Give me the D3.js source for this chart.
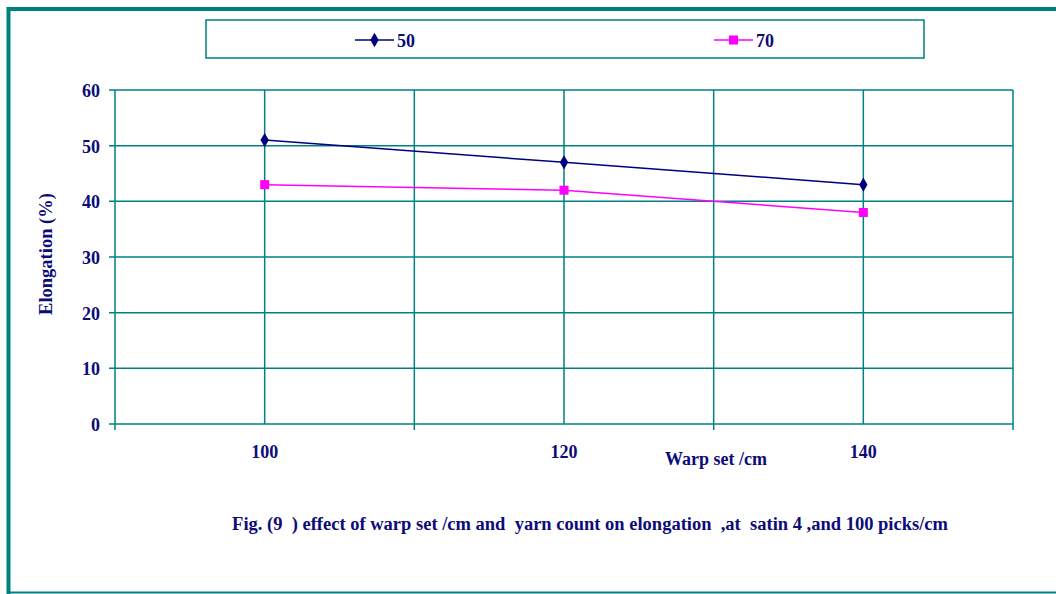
<!DOCTYPE html>
<html><head><meta charset="utf-8">
<script src="https://cdn.jsdelivr.net/npm/d3@7"></script>
<style>body{margin:0;background:#fff}svg{display:block}text{font-family:"Liberation Serif","Times New Roman",serif;font-weight:bold;fill:#0c0c78}</style>
</head><body><svg width="1056" height="594"></svg>
<script>
const warpSet = [100, 120, 140];
const series50 = [51, 47, 43];
const series70 = [43, 42, 38];
const seriesNames = ["50", "70"];
const yTicks = [0, 10, 20, 30, 40, 50, 60];
const xLabels = [100, 120, 140];
const xGrid = [100, 110, 120, 130, 140, 150];
const xTickMarks = [90, 110, 130, 150];

const svg = d3.select("svg");
const teal = "#008080", navy = "#000080", mag = "#ff00ff";

// outer frame
svg.append("line").attr("x1",8.5).attr("x2",1056).attr("y1",9).attr("y2",9).attr("stroke",teal).attr("stroke-width",4);
svg.append("line").attr("x1",8.5).attr("x2",8.5).attr("y1",7).attr("y2",594).attr("stroke",teal).attr("stroke-width",4);
svg.append("line").attr("x1",8).attr("x2",1056).attr("y1",592.5).attr("y2",592.5).attr("stroke",teal).attr("stroke-width",2);

const x = d3.scaleLinear().domain([90,150]).range([115,1013]);
const y = d3.scaleLinear().domain([0,60]).range([424,90]);

// grid
const g = svg.append("g");
g.selectAll(".hg").data(yTicks).join("line")
  .attr("x1",109).attr("x2",1013).attr("y1",d=>y(d)).attr("y2",d=>y(d))
  .attr("stroke",teal).attr("stroke-width",1.5);
g.selectAll(".vg").data(xGrid).join("line")
  .attr("x1",d=>x(d)).attr("x2",d=>x(d)).attr("y1",90).attr("y2",424)
  .attr("stroke",teal).attr("stroke-width",1.5);
g.selectAll(".xt").data(xTickMarks).join("line")
  .attr("x1",d=>x(d)).attr("x2",d=>x(d)).attr("y1",424).attr("y2",430)
  .attr("stroke",teal).attr("stroke-width",1.5);
g.append("line").attr("x1",x(90)).attr("x2",x(90)).attr("y1",90).attr("y2",424).attr("stroke",teal).attr("stroke-width",1.5);

// y labels
svg.selectAll(".yl").data(yTicks).join("text")
  .attr("x",100).attr("y",d=>y(d)+7).attr("text-anchor","end")
  .attr("font-size",18).text(d=>d);
// x labels
svg.selectAll(".xl").data(xLabels).join("text")
  .attr("x",d=>x(d)).attr("y",458).attr("text-anchor","middle")
  .attr("font-size",18).text(d=>d);

svg.append("text").attr("x",716).attr("y",465).attr("text-anchor","middle").attr("font-size",18).text("Warp set /cm");
svg.append("text").attr("transform","translate(52,254) rotate(-90)").attr("text-anchor","middle").attr("font-size",18.5).text("Elongation (%)");
svg.append("text").attr("x",590).attr("y",530).attr("text-anchor","middle").attr("font-size",18.5)
  .attr("xml:space","preserve").style("white-space","pre")
  .text("Fig. (9  ) effect of warp set /cm and  yarn count on elongation  ,at  satin 4 ,and 100 picks/cm");

// lines
const line = d3.line().x((d,i)=>x(warpSet[i])).y(d=>y(d));
svg.append("path").attr("d",line(series50)).attr("fill","none").attr("stroke",navy).attr("stroke-width",1.5);
svg.append("path").attr("d",line(series70)).attr("fill","none").attr("stroke",mag).attr("stroke-width",1.5);
svg.selectAll(".m50").data(series50).join("path")
  .attr("transform",(d,i)=>`translate(${x(warpSet[i])},${y(d)})`)
  .attr("d",d3.symbol().type(d3.symbolDiamond).size(60)).attr("fill",navy);
svg.selectAll(".m70").data(series70).join("rect")
  .attr("x",(d,i)=>x(warpSet[i])-4.5).attr("y",d=>y(d)-4.5).attr("width",9).attr("height",9).attr("fill",mag);

// legend
svg.append("rect").attr("x",206).attr("y",20).attr("width",718).attr("height",38)
  .attr("fill","#fff").attr("stroke",teal).attr("stroke-width",1.5);
const leg = [{n:seriesNames[0],c:navy,x0:355},{n:seriesNames[1],c:mag,x0:714}];
leg.forEach((l,i)=>{
  svg.append("line").attr("x1",l.x0).attr("x2",l.x0+39).attr("y1",40).attr("y2",40).attr("stroke",l.c).attr("stroke-width",1.5);
  if(i===0) svg.append("path").attr("transform",`translate(${l.x0+19.5},40)`).attr("d",d3.symbol().type(d3.symbolDiamond).size(60)).attr("fill",l.c);
  else svg.append("rect").attr("x",l.x0+15).attr("y",35.5).attr("width",9).attr("height",9).attr("fill",l.c);
  svg.append("text").attr("x",l.x0+42).attr("y",47).attr("font-size",18).text(l.n);
});
</script></body></html>
